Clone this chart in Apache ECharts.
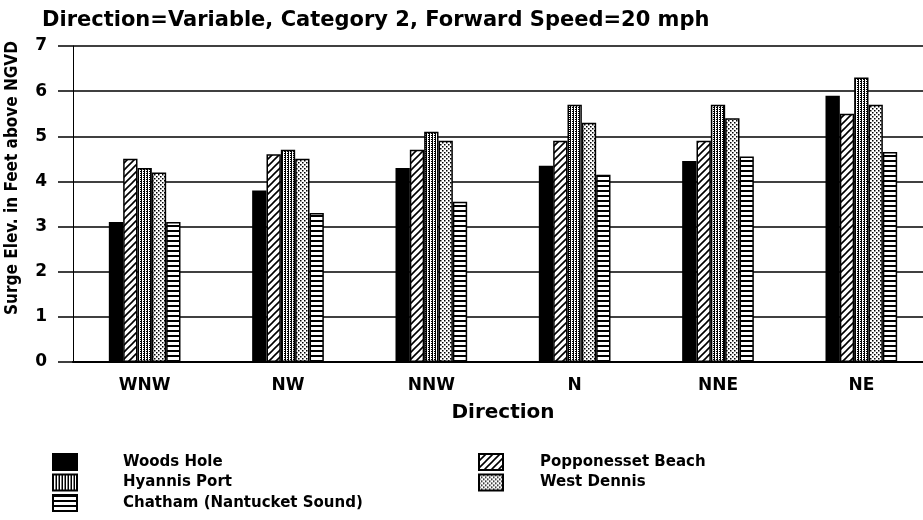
<!DOCTYPE html>
<html>
<head>
<meta charset="utf-8">
<script src="https://cdn.jsdelivr.net/npm/echarts@6/dist/echarts.min.js"></script>
<style>
html, body { margin: 0; padding: 0; background: #fff; }
#chart { width: 923px; height: 520px; }
</style>
</head>
<body>
<div id="chart"></div>
<script>
// directions along the x axis
var directions = ['WNW', 'NW', 'NNW', 'N', 'NNE', 'NE'];
var yTicks = [0, 1, 2, 3, 4, 5, 6, 7];

// surge elevation (ft above NGVD)
var woodsHole   = [3.1, 3.8, 4.3, 4.35, 4.45, 5.9];
var popponesset = [4.5, 4.6, 4.7, 4.9, 4.9, 5.5];
var hyannis     = [4.3, 4.7, 5.1, 5.7, 5.7, 6.3];
var westDennis  = [4.2, 4.5, 4.9, 5.3, 5.4, 5.7];
var chatham     = [3.1, 3.3, 3.55, 4.15, 4.55, 4.65];

var names = ['Woods Hole', 'Popponesset Beach', 'Hyannis Port', 'West Dennis', 'Chatham (Nantucket Sound)'];

// small canvas patterns to imitate the hatched fills
function pattern(w, h, draw) {
    var c = document.createElement('canvas');
    c.width = w; c.height = h;
    var ctx = c.getContext('2d');
    ctx.fillStyle = '#fff';
    ctx.fillRect(0, 0, w, h);
    ctx.fillStyle = '#000';
    ctx.strokeStyle = '#000';
    draw(ctx);
    return { image: c, repeat: 'repeat' };
}

var diag = pattern(7, 7, function (ctx) {
    ctx.lineWidth = 1.6;
    ctx.beginPath();
    ctx.moveTo(-1, 8); ctx.lineTo(8, -1);
    ctx.moveTo(-1, 1); ctx.lineTo(1, -1);
    ctx.moveTo(6, 8); ctx.lineTo(8, 6);
    ctx.stroke();
});
var vstipple = pattern(3, 4, function (ctx) {
    ctx.fillRect(0, 0, 1, 4);
    ctx.fillRect(2, 1, 1, 1);
    ctx.fillRect(2, 3, 1, 1);
});
var dots = pattern(4, 4, function (ctx) {
    ctx.fillRect(0, 0, 1.5, 1.5);
    ctx.fillRect(2, 2, 1.5, 1.5);
});
var hlines = pattern(4, 5, function (ctx) {
    ctx.fillRect(0, 0, 4, 2);
});

var fills = ['#000', diag, vstipple, dots, hlines];
var values = [woodsHole, popponesset, hyannis, westDennis, chatham];

var font = 'DejaVu Sans';
var chart = echarts.init(document.getElementById('chart'));

var series = [];
for (var k = 0; k < names.length; k++) {
    series.push({
        name: names[k],
        type: 'bar',
        data: values[k],
        barGap: '0%',
        barCategoryGap: '50%',
        itemStyle: { color: fills[k], borderColor: '#000', borderWidth: 1.5 },
        emphasis: { disabled: true }
    });
}

var legendText = { fontFamily: font, fontWeight: 'bold', fontSize: 15, color: '#000' };

chart.setOption({
    animation: false,
    title: {
        text: 'Direction=Variable, Category 2, Forward Speed=20 mph',
        left: 37,
        top: 5,
        textStyle: { fontFamily: font, fontWeight: 'bold', fontSize: 21, color: '#000' }
    },
    legend: [
        {
            data: [names[0], names[2], names[4]],
            orient: 'vertical',
            left: 52, top: 453,
            padding: 0,
            itemWidth: 24, itemHeight: 16, itemGap: 2.5,
            icon: 'rect',
            textStyle: Object.assign({ padding: [0, 0, 0, 41] }, legendText)
        },
        {
            data: [names[1], names[3]],
            orient: 'vertical',
            left: 478, top: 453,
            padding: 0,
            itemWidth: 24, itemHeight: 16, itemGap: 2.5,
            icon: 'rect',
            textStyle: Object.assign({ padding: [0, 0, 0, 32] }, legendText)
        }
    ],
    grid: { left: 73, top: 46, bottom: 158, right: -10, containLabel: false, outerBoundsMode: 'none' },
    xAxis: {
        type: 'category',
        data: directions,
        name: 'Direction',
        nameLocation: 'middle',
        nameGap: 41,
        nameTextStyle: { fontFamily: font, fontWeight: 'bold', fontSize: 20, color: '#000' },
        axisLine: { lineStyle: { color: '#000', width: 2 } },
        axisTick: { alignWithLabel: true, length: 7, lineStyle: { color: '#000', width: 1 } },
        axisLabel: { margin: 15, fontFamily: font, fontWeight: 'bold', fontSize: 17, color: '#000' }
    },
    yAxis: {
        type: 'value',
        min: yTicks[0],
        max: yTicks[yTicks.length - 1],
        interval: 1,
        name: 'Surge Elev. in Feet above NGVD',
        nameLocation: 'middle',
        nameGap: 52,
        nameTextStyle: {
            fontFamily: 'DejaVu Sans Condensed', fontWeight: 'bold', fontSize: 17, color: '#000',
            padding: [0, 0, 0, 52]
        },
        axisLine: { show: true, lineStyle: { color: '#000', width: 1 } },
        axisTick: { show: true, inside: false, length: 15, lineStyle: { color: '#000', width: 1.5 } },
        axisLabel: { margin: 26, fontFamily: font, fontWeight: 'bold', fontSize: 17, color: '#000' },
        splitLine: { show: true, lineStyle: { color: '#000', width: 1.5 } }
    },
    series: series
});
</script>
</body>
</html>
